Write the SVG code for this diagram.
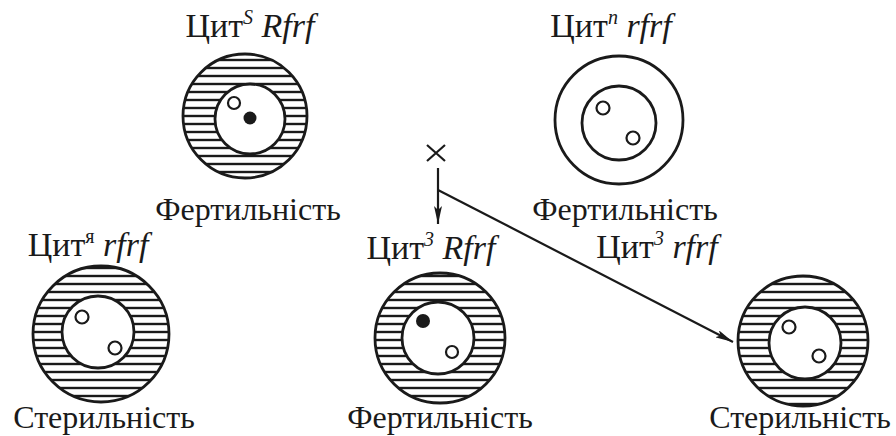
<svg xmlns="http://www.w3.org/2000/svg" width="896" height="436" viewBox="0 0 896 436">
  <defs>
    <pattern id="hatch" patternUnits="userSpaceOnUse" width="12" height="8">
      <rect width="12" height="8" fill="#fff"/>
      <line x1="0" y1="4" x2="12" y2="4" stroke="#1a1a1a" stroke-width="2.4"/>
    </pattern>
    <marker id="arrow" viewBox="0 0 18 8" refX="18" refY="4" markerWidth="18" markerHeight="8" markerUnits="userSpaceOnUse" orient="auto">
      <path d="M0,0 L18,4 L0,8 L4,4 Z" fill="#1a1a1a"/>
    </marker>
  </defs>
  <style>
    text { font-family: 'Liberation Serif', serif; font-size: 32px; fill: #1a1a1a; }
    .title { font-size: 34px; }
    .it { font-style: italic; }
    .sup { font-size: 20px; font-style: italic; }
    .supu { font-size: 20px; }
    .outer { fill: url(#hatch); stroke: #1a1a1a; stroke-width: 2.8; }
    .plain { fill: #fff; stroke: #1a1a1a; stroke-width: 2.8; }
    .inner { fill: #fff; stroke: #1a1a1a; stroke-width: 2.8; }
    .pl { fill: #fff; stroke: #1a1a1a; stroke-width: 2.2; }
    .chr { fill: #1a1a1a; }
    .conn { fill: none; stroke: #1a1a1a; stroke-width: 2.2; }
  </style>

  <rect width="896" height="436" fill="#fff"/>

  <!-- cytoplasm S, restorer present -->
  <g id="cell-s-Rfrf">
    <text class="title" x="250" y="37" text-anchor="middle">Цит<tspan class="sup" dy="-13">S</tspan><tspan class="it" dy="13"> Rfrf</tspan></text>
    <circle class="outer" cx="245" cy="116" r="62"/>
    <circle class="inner" cx="250" cy="119" r="35"/>
    <circle class="pl" cx="234" cy="103" r="6"/>
    <circle class="chr" cx="250" cy="118" r="6.5"/>
    <text x="248" y="220" text-anchor="middle">Фертильність</text>
  </g>

  <!-- normal cytoplasm -->
  <g id="cell-n-rfrf">
    <text class="title" x="611" y="37" text-anchor="middle">Цит<tspan class="sup" dy="-13">n</tspan><tspan class="it" dy="13"> rfrf</tspan></text>
    <circle class="plain" cx="619" cy="120" r="64"/>
    <circle class="inner" cx="619" cy="123" r="37"/>
    <circle class="pl" cx="603" cy="108" r="6.5"/>
    <circle class="pl" cx="633" cy="138" r="6.5"/>
    <text x="625" y="220" text-anchor="middle">Фертильність</text>
  </g>

  <!-- sterile cytoplasm, no restorer -->
  <g id="cell-ya-rfrf">
    <text class="title" x="88" y="256" text-anchor="middle">Цит<tspan class="supu" dy="-13">я</tspan><tspan class="it" dy="13"> rfrf</tspan></text>
    <circle class="outer" cx="101" cy="334" r="68"/>
    <circle class="inner" cx="98" cy="332" r="36"/>
    <circle class="pl" cx="82" cy="317" r="6.5"/>
    <circle class="pl" cx="115" cy="348" r="6.5"/>
    <text x="104" y="428" text-anchor="middle">Стерильність</text>
  </g>

  <!-- cross symbol and branches -->
  <g id="connectors">
    <path class="conn" d="M427,145 L445,161 M445,145 L427,161"/>
    <line class="conn" x1="438" y1="168" x2="438" y2="224" marker-end="url(#arrow)"/>
    <line class="conn" x1="438" y1="190" x2="733" y2="342" marker-end="url(#arrow)"/>
  </g>

  <!-- sterile cytoplasm with restorer -->
  <g id="cell-3-Rfrf">
    <text class="title" x="431" y="259" text-anchor="middle">Цит<tspan class="sup" dy="-13">3</tspan><tspan class="it" dy="13"> Rfrf</tspan></text>
    <circle class="outer" cx="440" cy="338" r="65"/>
    <circle class="inner" cx="438" cy="338" r="36"/>
    <circle class="chr" cx="423" cy="321" r="7"/>
    <circle class="pl" cx="452" cy="352" r="6"/>
    <text x="440" y="428" text-anchor="middle">Фертильність</text>
  </g>

  <!-- sterile cytoplasm without restorer -->
  <g id="cell-3-rfrf">
    <text class="title" x="657" y="258" text-anchor="middle">Цит<tspan class="sup" dy="-13">3</tspan><tspan class="it" dy="13"> rfrf</tspan></text>
    <circle class="outer" cx="803" cy="341" r="65"/>
    <circle class="inner" cx="805" cy="343" r="36"/>
    <circle class="pl" cx="789" cy="327" r="6.5"/>
    <circle class="pl" cx="819" cy="356" r="6.5"/>
    <text x="800" y="428" text-anchor="middle">Стерильність</text>
  </g>
</svg>
